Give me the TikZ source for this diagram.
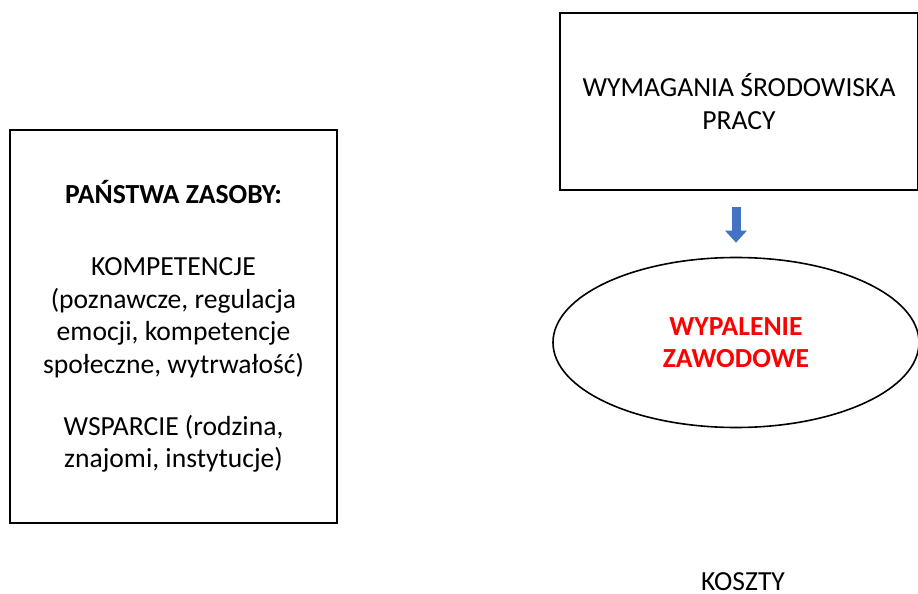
\documentclass[tikz,border=0pt]{standalone}
\usepackage{fontspec}
\setmainfont{Carlito}
\usepackage{xcolor}
\usepackage{tikz}
\usetikzlibrary{shapes.geometric, arrows.meta}
\definecolor{arrowblue}{HTML}{4472C4}
\definecolor{burnred}{HTML}{FF0000}

\begin{document}
\begin{tikzpicture}[x=0.5pt, y=-0.5pt, font=\fontsize{13.8}{16.2}\selectfont]
        \useasboundingbox (0,0) rectangle (918,594);
        \tikzset{
            box/.style={draw, line width=1pt, align=center, inner sep=0pt},
            oval/.style={draw, ellipse, line width=0.8pt, align=center, inner sep=0pt},
            blockarrow/.style={line width=4.5pt, arrowblue, -{Triangle[width=10.5pt, length=6pt]}},
        }
        \node[box, minimum width=163.5pt, minimum height=196.5pt] (zasoby) at (173.5,326.5)
            {\textbf{PAŃSTWA ZASOBY:}\\[20pt]
             KOMPETENCJE\\(poznawcze, regulacja\\emocji, kompetencje\\społeczne, wytrwałość)\\[15pt]
             WSPARCIE (rodzina,\\znajomi, instytucje)};
        \node[box, minimum width=179pt, minimum height=88.5pt] (wymagania) at (739,101.5)
            {WYMAGANIA ŚRODOWISKA\\PRACY};
        \node[oval, minimum width=183pt, minimum height=85pt] (wypalenie) at (736,342.5)
            {\color{burnred}\textbf{WYPALENIE}\\\color{burnred}\textbf{ZAWODOWE}};
        \node[anchor=base] (koszty) at (743,590) {KOSZTY};
        \draw[blockarrow, shorten <=8pt, shorten >=7pt] (wymagania.south -| wypalenie.north) -- (wypalenie.north);
    \end{tikzpicture}
\end{document}
